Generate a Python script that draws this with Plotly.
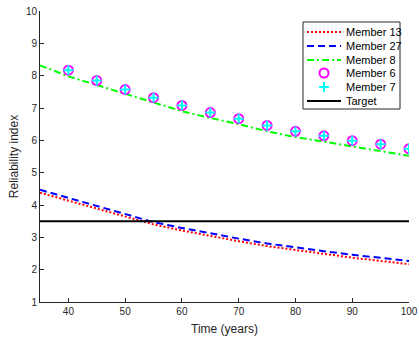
import plotly.graph_objects as go

years = [35, 40, 45, 50, 55, 60, 65, 70, 75, 80, 85, 90, 95, 100]
member13 = [4.38, 4.13, 3.88, 3.63, 3.40, 3.21, 3.04, 2.88, 2.73, 2.60, 2.49, 2.37, 2.27, 2.17]
member27 = [4.47, 4.22, 3.96, 3.71, 3.47, 3.29, 3.12, 2.96, 2.81, 2.68, 2.57, 2.46, 2.36, 2.27]
member8 = [8.32, 7.98, 7.71, 7.44, 7.15, 6.90, 6.69, 6.50, 6.28, 6.10, 5.96, 5.82, 5.67, 5.52]

marker_years = [40, 45, 50, 55, 60, 65, 70, 75, 80, 85, 90, 95, 100]
member6 = [8.17, 7.85, 7.57, 7.32, 7.08, 6.86, 6.67, 6.46, 6.28, 6.14, 5.99, 5.88, 5.74]
member7 = [8.17, 7.85, 7.57, 7.32, 7.08, 6.86, 6.67, 6.46, 6.28, 6.14, 5.99, 5.88, 5.74]

target_years = [35, 100]
target = [3.5, 3.5]

x_ticks = [40, 50, 60, 70, 80, 90, 100]
y_ticks = [1, 2, 3, 4, 5, 6, 7, 8, 9, 10]

legend_labels = ["Member 13", "Member 27", "Member 8", "Member 6", "Member 7", "Target"]

FONT = "Liberation Sans, Arial, Helvetica, sans-serif"
INK = "#262626"

styles = {
    "Member 13": dict(kind="line", line=dict(color="#FF0000", width=2, dash="2px,2px")),
    "Member 27": dict(kind="line", line=dict(color="#0000FF", width=2, dash="7px,4px")),
    "Member 8": dict(kind="line", line=dict(color="#00FF00", width=2, dash="7px,3px,2px,3px")),
    "Member 6": dict(kind="marker", marker=dict(symbol="circle-open", color="#FF00FF", size=9,
                                                 line=dict(width=2, color="#FF00FF"))),
    "Member 7": dict(kind="marker", marker=dict(symbol="cross-thin-open", color="#00FFFF", size=7,
                                                 line=dict(width=2, color="#00FFFF"))),
    "Target": dict(kind="line", line=dict(color="#000000", width=2)),
}

fig = go.Figure()
fig.add_trace(go.Scatter(x=years, y=member13, mode="lines", name="Member 13",
                         line=styles["Member 13"]["line"], showlegend=False))
fig.add_trace(go.Scatter(x=years, y=member27, mode="lines", name="Member 27",
                         line=styles["Member 27"]["line"], showlegend=False))
fig.add_trace(go.Scatter(x=years, y=member8, mode="lines", name="Member 8",
                         line=styles["Member 8"]["line"], showlegend=False))
fig.add_trace(go.Scatter(x=marker_years, y=member6, mode="markers", name="Member 6",
                         marker=styles["Member 6"]["marker"], showlegend=False))
fig.add_trace(go.Scatter(x=marker_years, y=member7, mode="markers", name="Member 7",
                         marker=styles["Member 7"]["marker"], showlegend=False))
fig.add_trace(go.Scatter(x=target_years, y=target, mode="lines", name="Target",
                         line=styles["Target"]["line"], showlegend=False))

# Compact legend (MATLAB style) drawn on an overlay axis measured in pixels of the plot area
L, R, T, B = 40, 409, 11, 302
box_x0, box_x1, box_y0, box_y1 = 303, 400, 22, 109
row_y = [32, 46, 60, 73, 87, 101]
key_x0, key_x1, text_x = 307, 341, 344
for lbl, ry in zip(legend_labels, row_y):
    st = styles[lbl]
    if st["kind"] == "line":
        fig.add_trace(go.Scatter(x=[key_x0, key_x1], y=[ry, ry], mode="lines", line=st["line"],
                                 xaxis="x2", yaxis="y2", showlegend=False, hoverinfo="skip"))
    else:
        fig.add_trace(go.Scatter(x=[(key_x0 + key_x1) / 2], y=[ry], mode="markers",
                                 marker=st["marker"], xaxis="x2", yaxis="y2",
                                 showlegend=False, hoverinfo="skip"))
    fig.add_annotation(x=text_x, y=ry, xref="x2", yref="y2", text=lbl, showarrow=False,
                       xanchor="left", yanchor="middle",
                       font=dict(family=FONT, size=11, color="#000000"))
fig.add_shape(type="rect", xref="x2", yref="y2", x0=box_x0, x1=box_x1, y0=box_y0, y1=box_y1,
              line=dict(color=INK, width=1), fillcolor="white", layer="below")

axis_common = dict(showgrid=False, zeroline=False, showline=True, linecolor=INK,
                   linewidth=1, ticks="inside", ticklen=4, tickcolor=INK, automargin=False,
                   ticklabeloverflow="allow",
                   tickfont=dict(family=FONT, size=10, color=INK))

fig.update_layout(
    width=419, height=340,
    margin=dict(l=L, r=419 - R, t=T, b=340 - B),
    plot_bgcolor="white", paper_bgcolor="white",
    font=dict(family=FONT, size=11, color=INK),
    xaxis=dict(range=[35, 100], tickvals=x_ticks,
               title=dict(text="Time (years)", font=dict(size=12, color=INK), standoff=8),
               **axis_common),
    yaxis=dict(range=[1, 10], tickvals=y_ticks,
               title=dict(text="Reliability index", font=dict(size=12, color=INK), standoff=4),
               **axis_common),
    xaxis2=dict(range=[L, R], overlaying="x", visible=False, fixedrange=True),
    yaxis2=dict(range=[B, T], overlaying="y", visible=False, fixedrange=True),
    showlegend=False,
)

fig.write_html("out.html", config={"displayModeBar": False},
               post_script="document.body.style.margin='0px';")
